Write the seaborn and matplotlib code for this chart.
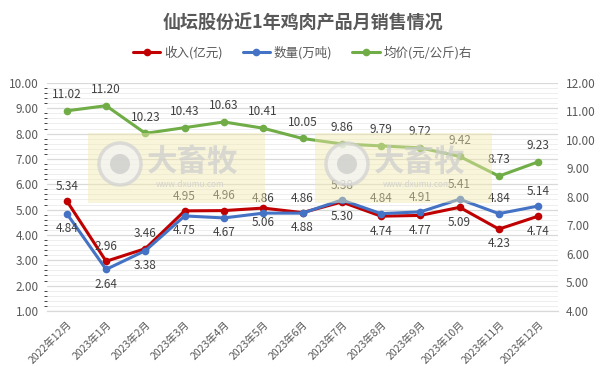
import matplotlib
matplotlib.use("Agg")
import matplotlib.pyplot as plt
import matplotlib.patches as mpatches
from matplotlib.ticker import MultipleLocator, FixedLocator
import seaborn as sns
import pandas as pd

sns.set_style("white")
plt.rcParams['font.family'] = ['Noto Sans CJK SC', 'DejaVu Sans']
plt.rcParams['axes.unicode_minus'] = False

months = ["2022年12月", "2023年1月", "2023年2月", "2023年3月", "2023年4月", "2023年5月",
          "2023年6月", "2023年7月", "2023年8月", "2023年9月", "2023年10月", "2023年11月",
          "2023年12月"]
revenue = [5.34, 2.96, 3.46, 4.95, 4.96, 5.06, 4.88, 5.30, 4.74, 4.77, 5.09, 4.23, 4.74]
volume = [4.84, 2.64, 3.38, 4.75, 4.67, 4.86, 4.86, 5.38, 4.84, 4.91, 5.41, 4.84, 5.14]
price = [11.02, 11.20, 10.23, 10.43, 10.63, 10.41, 10.05, 9.86, 9.79, 9.72, 9.42, 8.73, 9.23]

# label placement: revenue above for the first five months, below afterwards
rev_above = [True] * 5 + [False] * 8

RED = "#c00000"
BLUE = "#4472c4"
GREEN = "#70ad47"
GREY = "#595959"

df = pd.DataFrame({"月份": months, "收入": revenue, "数量": volume, "均价": price})

fig, ax = plt.subplots(figsize=(6.05, 3.82), dpi=100)
fig.subplots_adjust(left=0.078, right=0.922, top=0.783, bottom=0.186)
ax2 = ax.twinx()

ax.set_ylim(1, 10)
ax2.set_ylim(4, 12)

ax.yaxis.set_major_locator(MultipleLocator(1))
ax.yaxis.set_minor_locator(MultipleLocator(0.2))
ax2.yaxis.set_major_locator(MultipleLocator(1))
ax.grid(which="major", axis="y", color="#d9d9d9", lw=0.9)
ax.grid(which="minor", axis="y", color="#eeeeee", lw=0.7)
ax.set_axisbelow(True)

sns.lineplot(data=df, x="月份", y="收入", ax=ax, color=RED, lw=2.2, marker="o",
             markersize=5.5, markeredgewidth=0, sort=False, label="收入(亿元)", legend=False)
sns.lineplot(data=df, x="月份", y="数量", ax=ax, color=BLUE, lw=2.2, marker="o",
             markersize=5.5, markeredgewidth=0, sort=False, label="数量(万吨)", legend=False)
sns.lineplot(data=df, x="月份", y="均价", ax=ax2, color=GREEN, lw=2.2, marker="o",
             markersize=5.5, markeredgewidth=0, sort=False, label="均价(元/公斤)右", legend=False)
ax.set_xlim(-0.5, len(months) - 0.5)

lab_kw = dict(textcoords="offset points", ha="center", fontsize=8.5, color="#404040")
for i in range(len(months)):
    r_off, b_off = ((0, 6), (0, -6)) if rev_above[i] else ((0, -6), (0, 6))
    ax.annotate(f"{revenue[i]:.2f}", (i, revenue[i]), xytext=r_off,
                va="bottom" if rev_above[i] else "top", **lab_kw)
    ax.annotate(f"{volume[i]:.2f}", (i, volume[i]), xytext=b_off,
                va="top" if rev_above[i] else "bottom", **lab_kw)
    ax2.annotate(f"{price[i]:.2f}", (i, price[i]), xytext=(0, 7), va="bottom", **lab_kw)

for a in (ax, ax2):
    for s in ("top", "left", "right"):
        a.spines[s].set_visible(False)
    a.spines["bottom"].set_color("#d9d9d9")
    a.tick_params(axis="y", length=0, labelsize=8.5, labelcolor=GREY, pad=6)
ax.yaxis.set_major_formatter(lambda v, p: f"{v:.2f}")
ax2.yaxis.set_major_formatter(lambda v, p: f"{v:.2f}")
ax.set_xlabel("")
ax.set_ylabel("")
ax2.set_ylabel("")

ax.set_xticks(range(len(months)))
ax.set_xticklabels(months, rotation=45, ha="right", rotation_mode="anchor", fontsize=7.5, color=GREY)
ax.xaxis.set_minor_locator(FixedLocator([i - 0.5 for i in range(len(months) + 1)]))
ax.tick_params(axis="x", which="major", length=0, pad=6)
ax.tick_params(axis="x", which="minor", length=4, color="#d9d9d9")

# watermark blocks
W, H = 605, 382
for x0 in (88, 315):
    fig.patches.append(mpatches.Rectangle((x0 / W, 1 - 203 / H), 177 / W, 70 / H,
                                          transform=fig.transFigure, color="#f3eab0",
                                          alpha=0.45, zorder=5, lw=0))
    cx, cy = (x0 + 32) / W, 1 - 164 / H
    fig.patches.append(mpatches.Ellipse((cx, cy), 42 / W, 42 / H, transform=fig.transFigure,
                                        fc="#f4f4f4", ec="#d0d0d0", lw=2.5, alpha=0.7, zorder=6))
    fig.patches.append(mpatches.Ellipse((cx, cy), 20 / W, 20 / H, transform=fig.transFigure,
                                        fc="#c8c8c8", ec="none", alpha=0.7, zorder=6))
    fig.text((x0 + 105) / W, 1 - 162 / H, "大畜牧", fontsize=22, fontweight="bold",
             color="#cccccc", alpha=0.7, ha="center", va="center", zorder=6)
    fig.text((x0 + 102) / W, 1 - 184 / H, "www.dxumu.com", fontsize=6,
             color="#cccccc", alpha=0.8, ha="center", va="center", zorder=6)

fig.suptitle("仙坛股份近1年鸡肉产品月销售情况", y=0.965, fontsize=13, fontweight="bold", color=GREY)

h1, l1 = ax.get_legend_handles_labels()
h2, l2 = ax2.get_legend_handles_labels()
fig.legend(h1 + h2, l1 + l2, loc="center", bbox_to_anchor=(0.5, 0.862), ncol=3, frameon=False,
           fontsize=9, labelcolor=GREY, handlelength=2.2, columnspacing=1.6, handletextpad=0.3)

fig.savefig("out.png", dpi=100)
